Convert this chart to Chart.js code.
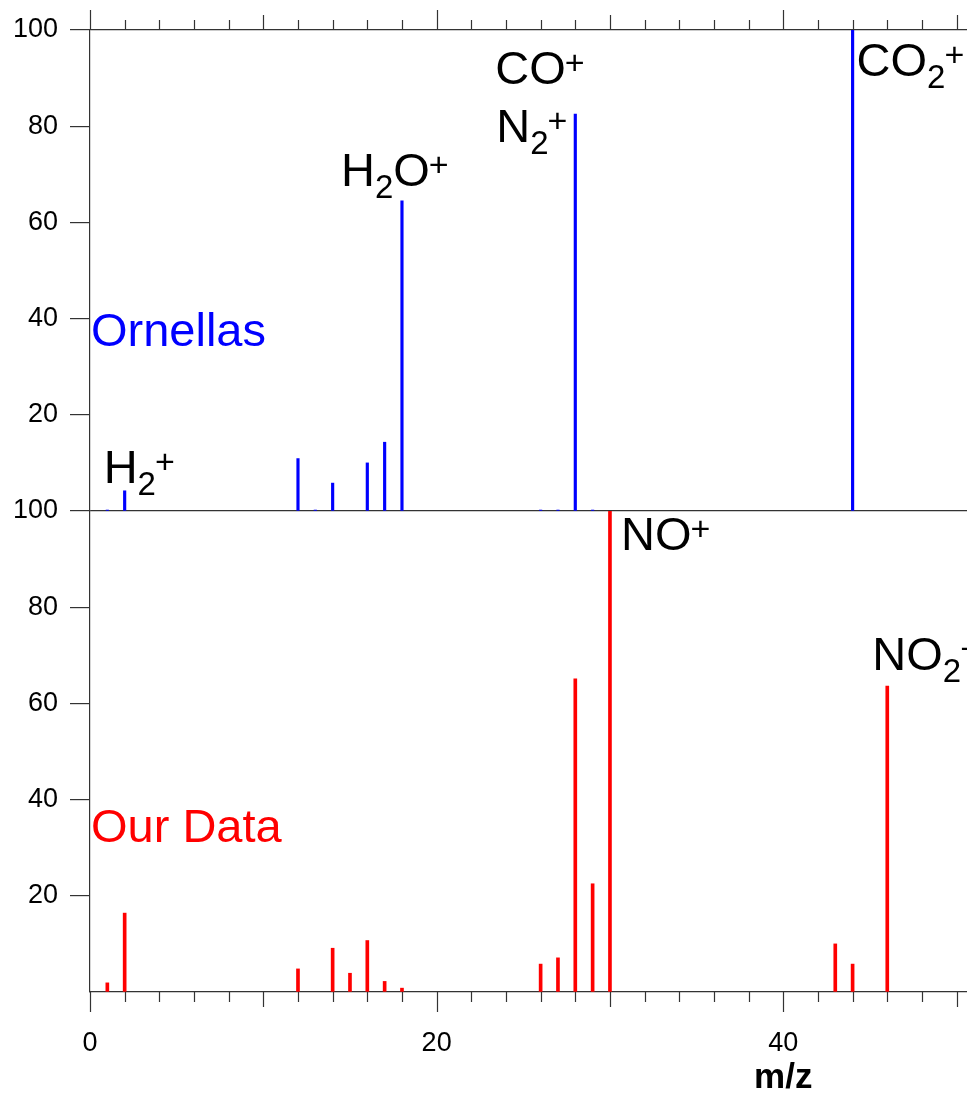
<!DOCTYPE html>
<html>
<head>
<meta charset="utf-8">
<script src="https://cdn.jsdelivr.net/npm/chart.js@4.4.0/dist/chart.umd.min.js"></script>
<style>
  html, body { margin: 0; padding: 0; background: #fff; overflow: hidden; }
  #wrap { width: 967px; height: 1094px; }
</style>
</head>
<body>
<div id="wrap"><canvas id="massChart" width="967" height="1094"></canvas></div>
<script>
// espectro de referencia (Ornellas): m/z e intensidade relativa (%)
const ornellasMz = [1, 2, 12, 13, 14, 16, 17, 18, 26, 27, 28, 29, 44];
const ornellasInt = [0.2, 4.2, 10.9, 0.2, 5.8, 10.0, 14.3, 64.5, 0.2, 0.2, 82.5, 0.2, 100];

// nosso espectro
const ourMz = [1, 2, 12, 14, 15, 16, 17, 18, 26, 27, 28, 29, 30, 43, 44, 46];
const ourInt = [1.9, 16.4, 4.8, 9.1, 3.9, 10.7, 2.2, 0.8, 5.8, 7.1, 65.1, 22.5, 100, 10.0, 5.8, 63.6];

// rotulos dos eixos
const yTickLabels = [20, 40, 60, 80, 100];
const xTickLabels = [0, 20, 40];

const FONT = '"Liberation Sans", Arial, Helvetica, sans-serif';
const AXIS = '#333';

// rotulos das especies: [texto, tipo]
const peakLabels = [
    { parts: [['H', ''], ['2', 'sub'], ['+', 'sup']], mz: 2, dx: -21, axis: 'yTop', y: 5.8 },
    { parts: [['H', ''], ['2', 'sub'], ['O', ''], ['+', 'sup']], mz: 18, dx: -61, axis: 'yTop', y: 67.6 },
    { parts: [['CO', ''], ['+', 'sup']], mz: 28, dx: -80, axis: 'yTop', y: 88.8 },
    { parts: [['N', ''], ['2', 'sub'], ['+', 'sup']], mz: 28, dx: -79, axis: 'yTop', y: 76.7 },
    { parts: [['CO', ''], ['2', 'sub'], ['+', 'sup']], mz: 44, dx: 4, axis: 'yTop', y: 90.5 },
    { parts: [['NO', ''], ['+', 'sup']], mz: 30, dx: 11, axis: 'yBottom', y: 91.8 },
    { parts: [['NO', ''], ['2', 'sub'], ['+', 'sup']], mz: 46, dx: -15, axis: 'yBottom', y: 67.0 }
];

function toPoints(xs, ys) {
    return xs.map((m, i) => ({ x: m, y: ys[i] }));
}

// Desenha formula quimica com sub/sobrescrito
function drawFormula(ctx, parts, x, y) {
    let cx = x;
    parts.forEach(([txt, kind]) => {
        if (kind === 'sub') {
            ctx.font = '33px ' + FONT;
            ctx.fillText(txt, cx, y + 12);
            cx += ctx.measureText(txt).width;
        } else if (kind === 'sup') {
            ctx.font = '34px ' + FONT;
            ctx.fillText(txt, cx - 1, y - 10);
            cx += ctx.measureText(txt).width;
        } else {
            ctx.font = '47px ' + FONT;
            ctx.fillText(txt, cx, y);
            cx += ctx.measureText(txt).width;
        }
    });
}

// ticks do eixo x (em cima e embaixo) e textos
const decorPlugin = {
    id: 'decor',
    afterDraw(chart) {
        const ctx = chart.ctx;
        const xs = chart.scales.x;
        const area = chart.chartArea;
        ctx.save();
        ctx.strokeStyle = AXIS;
        ctx.lineWidth = 1.2;
        ctx.beginPath();
        for (let v = 0; v <= xs.max; v += 2) {
            const px = Math.round(xs.getPixelForValue(v)) + 0.5;
            const len = v % 20 === 0 ? 20 : (v % 10 === 0 ? 15 : 10);
            ctx.moveTo(px, area.top);
            ctx.lineTo(px, area.top - len);
            ctx.moveTo(px, area.bottom);
            ctx.lineTo(px, area.bottom + len);
        }
        ctx.stroke();

        ctx.textBaseline = 'alphabetic';
        ctx.textAlign = 'left';

        // nomes das series
        ctx.font = '47px ' + FONT;
        ctx.fillStyle = '#0000ff';
        ctx.fillText('Ornellas', area.left + 1, chart.scales.yTop.getPixelForValue(34.4));
        ctx.fillStyle = '#ff0000';
        ctx.fillText('Our Data', area.left + 1, chart.scales.yBottom.getPixelForValue(31.2));

        // especies
        ctx.fillStyle = '#000';
        peakLabels.forEach(l => {
            drawFormula(ctx, l.parts, xs.getPixelForValue(l.mz) + l.dx, chart.scales[l.axis].getPixelForValue(l.y));
        });

        // titulo do eixo x
        ctx.font = 'bold 35px ' + FONT;
        ctx.textAlign = 'center';
        ctx.fillText('m/z', xs.getPixelForValue(40), 1088);
        ctx.restore();
    }
};

function yAxis(hideValue) {
    return {
        type: 'linear',
        position: 'left',
        stack: 'panels',
        stackWeight: 1,
        min: 0,
        max: 100,
        afterFit: s => { s.width = 90; },
        border: { display: true, color: AXIS, width: 1.2 },
        grid: {
            drawOnChartArea: true,
            drawTicks: true,
            tickLength: 20,
            color: c => (c.tick && c.tick.value === 100) ? AXIS : 'rgba(0,0,0,0)',
            tickColor: c => (c.tick && c.tick.value === hideValue) ? 'rgba(0,0,0,0)' : AXIS,
            lineWidth: 1.2,
            tickWidth: 1.2
        },
        ticks: {
            stepSize: 20,
            padding: 12,
            color: '#000',
            font: { family: FONT, size: 27 },
            callback: v => yTickLabels.includes(v) ? v : ''
        }
    };
}

const ctx = document.getElementById('massChart').getContext('2d');
const massChart = new Chart(ctx, {
    type: 'bar',
    data: {
        datasets: [
            {
                label: 'Ornellas',
                data: toPoints(ornellasMz, ornellasInt),
                yAxisID: 'yTop',
                backgroundColor: '#0000ff',
                barThickness: 2.5,
                grouped: false
            },
            {
                label: 'Our Data',
                data: toPoints(ourMz, ourInt),
                yAxisID: 'yBottom',
                backgroundColor: '#ff0000',
                barThickness: 3,
                grouped: false
            }
        ]
    },
    options: {
        responsive: false,
        animation: false,
        layout: { padding: { top: 30, right: 0, left: 0, bottom: 0 } },
        plugins: { legend: { display: false }, tooltip: { enabled: false } },
        scales: {
            x: {
                type: 'linear',
                min: 0,
                max: 50.6,
                offset: false,
                afterFit: s => { s.height = 102; s.paddingLeft = 0; s.paddingRight = 0; },
                border: { display: true, color: AXIS, width: 1.2 },
                grid: { drawOnChartArea: false, drawTicks: false },
                ticks: {
                    stepSize: 2,
                    autoSkip: false,
                    maxRotation: 0,
                    padding: 35,
                    color: '#000',
                    font: { family: FONT, size: 27 },
                    callback: v => xTickLabels.includes(v) ? v : ''
                }
            },
            yBottom: yAxis(0),
            yTop: yAxis(0)
        }
    },
    plugins: [decorPlugin]
});
</script>
</body>
</html>
